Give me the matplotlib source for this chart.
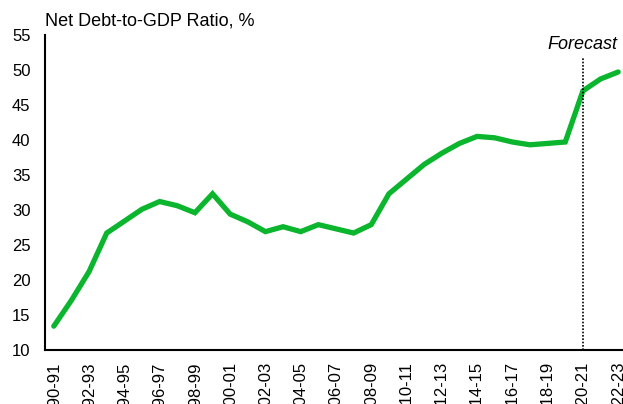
import matplotlib
matplotlib.use('Agg')
import matplotlib.pyplot as plt
import numpy as np

plt.rcParams['font.family'] = ['Liberation Sans', 'DejaVu Sans']

# 财年与净债务占GDP比例
years = ['1990-91', '1991-92', '1992-93', '1993-94', '1994-95', '1995-96',
         '1996-97', '1997-98', '1998-99', '1999-00', '2000-01', '2001-02',
         '2002-03', '2003-04', '2004-05', '2005-06', '2006-07', '2007-08',
         '2008-09', '2009-10', '2010-11', '2011-12', '2012-13', '2013-14',
         '2014-15', '2015-16', '2016-17', '2017-18', '2018-19', '2019-20',
         '2020-21', '2021-22', '2022-23']
ratio = [13.4, 17.1, 21.2, 26.7, 28.4, 30.1, 31.2, 30.6, 29.6, 32.3,
         29.4, 28.3, 26.9, 27.6, 26.9, 27.9, 27.3, 26.7, 27.9, 32.3,
         34.4, 36.5, 38.1, 39.5, 40.5, 40.3, 39.7, 39.3, 39.5, 39.7,
         47.0, 48.7, 49.7]
forecast_start = '2020-21'
yticks = [10, 15, 20, 25, 30, 35, 40, 45, 50, 55]

fig = plt.figure(figsize=(6.23, 4.04), dpi=100)
ax = fig.add_axes([0.0722, 0.1337, 0.9342, 0.78])

x = np.arange(len(years))
ax.plot(x, ratio, color='#0BB52E', linewidth=3.8, solid_capstyle='round',
        solid_joinstyle='miter')

# 预测分界线
fx = years.index(forecast_start)
ax.plot([fx, fx], [10, 51.7], color='black', linestyle=(0, (1, 1)),
        linewidth=1.2)
ax.text(fx, 53.6, 'Forecast', fontsize=13, style='italic',
        ha='center', va='center')

ax.set_xlim(-0.5, 32.5)
ax.set_ylim(10, 55)
ax.set_yticks(yticks)
ax.set_xticks(x[::2])
ax.set_xticklabels(years[::2], rotation=90, va='top', ha='center')
ax.tick_params(axis='both', length=0, labelsize=12)
ax.tick_params(axis='x', pad=8.5)
ax.tick_params(axis='y', pad=10.5)

for s in ['top', 'right']:
    ax.spines[s].set_visible(False)
for s in ['left', 'bottom']:
    ax.spines[s].set_linewidth(1.5)
    ax.spines[s].set_color('black')

fig.text(45 / 623, 1 - 21 / 404, 'Net Debt-to-GDP Ratio, %', fontsize=13,
         ha='left', va='center')

fig.savefig('out.png', dpi=100)
